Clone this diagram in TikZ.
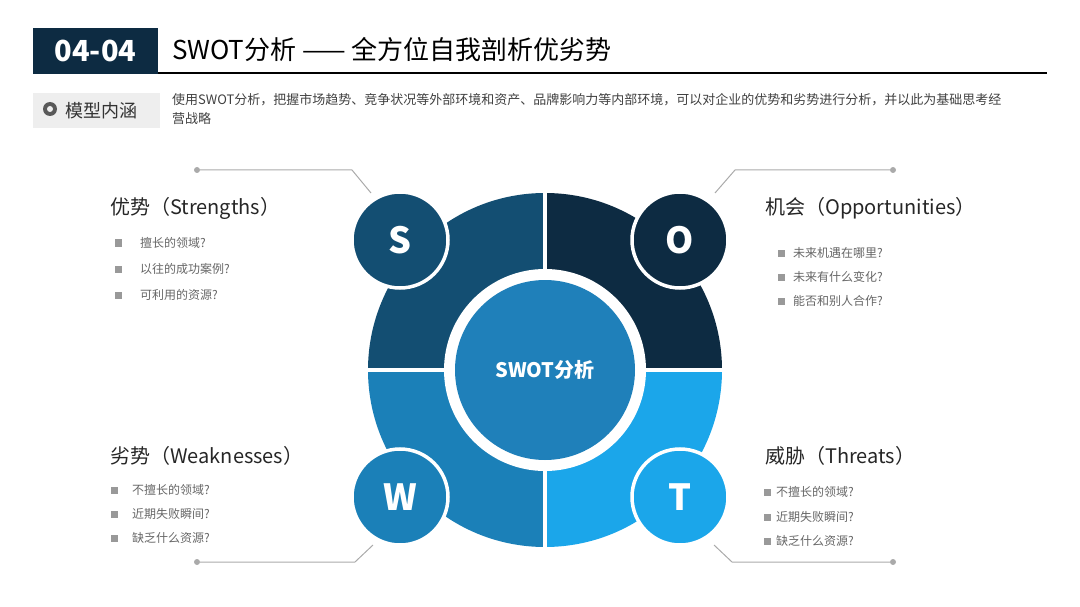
\documentclass[tikz,border=0pt]{standalone}
\usepackage{fontspec}
\setmainfont{Noto Sans CJK SC}
\usetikzlibrary{calc}
\definecolor{cS}{HTML}{134E72}
\definecolor{cO}{HTML}{0D2B42}
\definecolor{cW}{HTML}{1B80B8}
\definecolor{cT}{HTML}{1BA6EA}
\definecolor{cC}{HTML}{1F80BA}
\definecolor{gtxt}{HTML}{666666}
\definecolor{gline}{HTML}{AAAAAA}
\tikzset{
 letter/.style={circle,draw=white,line width=3.5pt,minimum size=96pt,inner sep=0,text=white,font=\fontsize{36}{36}\selectfont\bfseries},
 ttl/.style={anchor=west,inner sep=0,font=\fontsize{20}{22}\selectfont,text=black!85},
 itm/.style={anchor=west,inner sep=0,font=\fontsize{12}{14}\selectfont,text=gtxt},
 sq/.style={fill=gray!80,minimum size=7pt,inner sep=0},
 lead/.style={gline,line width=1pt},
 dot/.style={circle,fill=gline,inner sep=0,minimum size=6pt}
}
\begin{document}
\begin{tikzpicture}[x=1pt,y=-1pt]
\useasboundingbox (0,0) rectangle (1080,607);
% header
\fill[cO] (33,28) rectangle (158,74);
\node[text=white,font=\fontsize{29}{30}\selectfont\bfseries] (num) at (95.5,51) {04-04};
\node[anchor=west,inner sep=0,font=\fontsize{26}{28}\selectfont] (title) at (172,50) {SWOT分析 —— 全方位自我剖析优劣势};
\draw[line width=2.5pt] (158,73) -- (1047,73);
\fill[gray!13] (33,93) rectangle (160,128);
\node[anchor=west,inner sep=0,font=\fontsize{18}{20}\selectfont,text=black!80] (mx) at (65,111) {模型内涵};
\node[circle,fill=gray!70!black,minimum size=14pt,inner sep=0] (ic) at (50,109) {};
\fill[gray!13] (50,109) circle (3pt);
\node[anchor=north west,inner sep=0,align=left,font=\fontsize{13}{19}\selectfont,text=black!75] (desc) at (172,93) {使用SWOT分析，把握市场趋势、竞争状况等外部环境和资产、品牌影响力等内部环境，可以对企业的优势和劣势进行分析，并以此为基础思考经\\营战略};
% ring
\coordinate (c) at (545,370);
\fill[cS] (c) -- ($(c)+(-177,0)$) arc[start angle=180,end angle=270,radius=177] -- cycle;
\fill[cO] (c) -- ($(c)+(0,-177)$) arc[start angle=270,end angle=360,radius=177] -- cycle;
\fill[cT] (c) -- ($(c)+(177,0)$) arc[start angle=0,end angle=90,radius=177] -- cycle;
\fill[cW] (c) -- ($(c)+(0,177)$) arc[start angle=90,end angle=180,radius=177] -- cycle;
\draw[white,line width=4pt] ($(c)+(-180,0)$) -- ($(c)+(180,0)$) ($(c)+(0,-180)$) -- ($(c)+(0,180)$);
\fill[white] (c) circle (101);
\node[circle,fill=cC,minimum size=180pt,inner sep=0,text=white,font=\fontsize{20}{22}\selectfont\bfseries] (ctr) at (c) {SWOT分析};
\node[letter,fill=cS] (S) at (400,240) {S};
\node[letter,fill=cO] (O) at (680,240) {O};
\node[letter,fill=cW] (W) at (400,497) {W};
\node[letter,fill=cT] (T) at (680,497) {T};
% leaders
\node[dot] (d1) at (197,170) {};
\node[dot] (d2) at (893,170) {};
\node[dot] (d3) at (197,562) {};
\node[dot] (d4) at (893,562) {};
\coordinate (k1) at (352,170); \coordinate (e1) at (371,193);
\coordinate (k2) at (735,170); \coordinate (e2) at (715,193);
\coordinate (k3) at (355,562); \coordinate (e3) at (373,545);
\coordinate (k4) at (732,562); \coordinate (e4) at (714,545);
\draw[lead] (d1) -- (k1) -- (e1);
\draw[lead] (d2) -- (k2) -- (e2);
\draw[lead] (d3) -- (k3) -- (e3);
\draw[lead] (d4) -- (k4) -- (e4);
% texts
\node[ttl] (tS) at (110,208) {优势（Strengths）};
\node[ttl] (tO) at (765,208) {机会（Opportunities）};
\node[ttl] (tW) at (110,456) {劣势（Weaknesses）};
\node[ttl] (tT) at (765,456) {威胁（Threats）};
\foreach \y/\t [count=\i] in {243/擅长的领域?,269/以往的成功案例?,295/可利用的资源?}{
 \node[sq] (bs\i) at (118,\y) {}; \node[itm] (is\i) at (140,\y) {\t};}
\foreach \y/\t [count=\i] in {253/未来机遇在哪里?,277/未来有什么变化?,301/能否和别人合作?}{
 \node[sq] (bo\i) at (781,\y) {}; \node[itm] (io\i) at (793,\y) {\t};}
\foreach \y/\t [count=\i] in {490/不擅长的领域?,514/近期失败瞬间?,538/缺乏什么资源?}{
 \node[sq] (bw\i) at (114,\y) {}; \node[itm] (iw\i) at (132,\y) {\t};}
\foreach \y/\t [count=\i] in {492/不擅长的领域?,517/近期失败瞬间?,541/缺乏什么资源?}{
 \node[sq] (bt\i) at (767,\y) {}; \node[itm] (it\i) at (776,\y) {\t};}
\end{tikzpicture}
\end{document}
